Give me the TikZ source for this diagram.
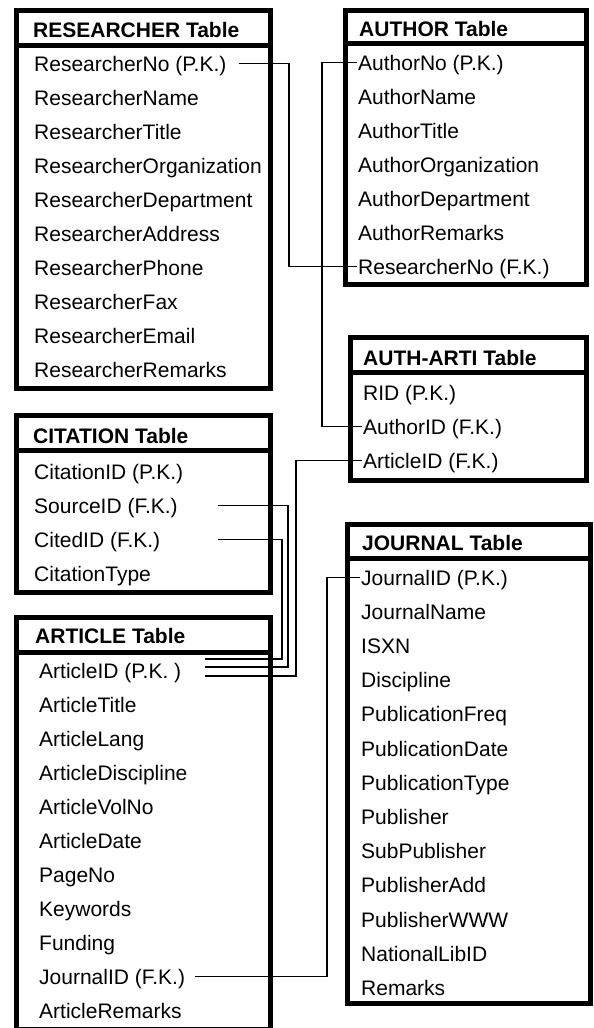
\documentclass[tikz,border=0pt]{standalone}
\usepackage{fontspec}
\setmainfont{Liberation Sans}
\usepackage{tikz}

\begin{document}
\begin{tikzpicture}[x=1pt,y=-1pt,
      tablebox/.style={line width=5pt},
      link/.style={line width=1.2pt},
      head/.style={anchor=base west,inner sep=0pt,font=\bfseries\fontsize{21}{24}\selectfont},
      field/.style={anchor=base west,inner xsep=1pt,inner ysep=0pt,
        text height=16pt,text depth=1pt,font=\fontsize{21}{24}\selectfont}]
      \useasboundingbox (0,0) rectangle (594,1028);

      % RESEARCHER
      \draw[tablebox] (16,10) rectangle (270,388);
      \draw[tablebox] (16,45) -- (270,45);
      \node[head] (resh) at (33,37) {RESEARCHER Table};
      \foreach \t [count=\i] in {ResearcherNo (P.K.),ResearcherName,ResearcherTitle,
          ResearcherOrganization,ResearcherDepartment,ResearcherAddress,
          ResearcherPhone,ResearcherFax,ResearcherEmail,ResearcherRemarks}
        \node[field] (res\i) at (33,{71+34*(\i-1)}) {\t};

      % AUTHOR
      \draw[tablebox] (345,10) rectangle (586,284);
      \draw[tablebox] (345,43) -- (586,43);
      \node[head] (auth) at (359,36) {AUTHOR Table};
      \foreach \t [count=\i] in {AuthorNo (P.K.),AuthorName,AuthorTitle,
          AuthorOrganization,AuthorDepartment,AuthorRemarks,ResearcherNo (F.K.)}
        \node[field] (aut\i) at (357,{70+34*(\i-1)}) {\t};

      % AUTH-ARTI
      \draw[tablebox] (350,337) rectangle (586,480);
      \draw[tablebox] (350,372) -- (586,372);
      \node[head] (aath) at (363,365) {AUTH-ARTI Table};
      \foreach \t [count=\i] in {RID (P.K.),AuthorID (F.K.),ArticleID (F.K.)}
        \node[field] (aat\i) at (362,{400+34*(\i-1)}) {\t};

      % CITATION
      \draw[tablebox] (16,415) rectangle (270,592);
      \draw[tablebox] (16,450) -- (270,450);
      \node[head] (cith) at (33,443) {CITATION Table};
      \foreach \t [count=\i] in {CitationID (P.K.),SourceID (F.K.),CitedID (F.K.),CitationType}
        \node[field] (cit\i) at (33,{479+34*(\i-1)}) {\t};

      % ARTICLE
      \draw[tablebox] (16,617) rectangle (270,1029);
      \draw[tablebox] (16,652) -- (270,652);
      \node[head] (arth) at (35,643) {ARTICLE Table};
      \foreach \t [count=\i] in {ArticleID (P.K. ),ArticleTitle,ArticleLang,
          ArticleDiscipline,ArticleVolNo,ArticleDate,PageNo,Keywords,Funding,
          JournalID (F.K.),ArticleRemarks}
        \node[field] (art\i) at (38,{678+34*(\i-1)}) {\t};

      % JOURNAL
      \draw[tablebox] (347,524) rectangle (590,1003);
      \draw[tablebox] (347,558) -- (590,558);
      \node[head] (jouh) at (362,550) {JOURNAL Table};
      \foreach \t [count=\i] in {JournalID (P.K.),JournalName,ISXN,Discipline,
          PublicationFreq,PublicationDate,PublicationType,Publisher,SubPublisher,
          PublisherAdd,PublisherWWW,NationalLibID,Remarks}
        \node[field] (jou\i) at (360,{585+34.2*(\i-1)}) {\t};

      % keys
      \coordinate (rbx) at (289,0);
      \coordinate (abx) at (322,0);
      \coordinate (cbx) at (282,0);
      \coordinate (sbx) at (288,0);
      \coordinate (xbx) at (296,0);
      \coordinate (jbx) at (327,0);
      \coordinate (fkx) at (218,0);
      \coordinate (pkx) at (205,0);
      \coordinate[yshift=11.5pt] (pk1) at (art1.east -| pkx);
      \coordinate[yshift=3.5pt] (pk2) at (art1.east -| pkx);
      \coordinate[yshift=-5.5pt] (pk3) at (art1.east -| pkx);

      \draw[link,shorten <=11pt] (res1.east) -- (res1.east -| rbx) |- (aut7.west);
      \draw[link] (aut1.west) -- (aut1.west -| abx) |- (aat2.west);
      \draw[link] (cit3.east -| fkx) -- (cit3.east -| cbx) |- (pk1);
      \draw[link] (cit2.east -| fkx) -- (cit2.east -| sbx) |- (pk2);
      \draw[link] (aat3.west) -- (aat3.west -| xbx) |- (pk3);
      \draw[link,shorten <=9pt] (art10.east) -- (art10.east -| jbx) |- (jou1.west);
      \end{tikzpicture}
\end{document}
